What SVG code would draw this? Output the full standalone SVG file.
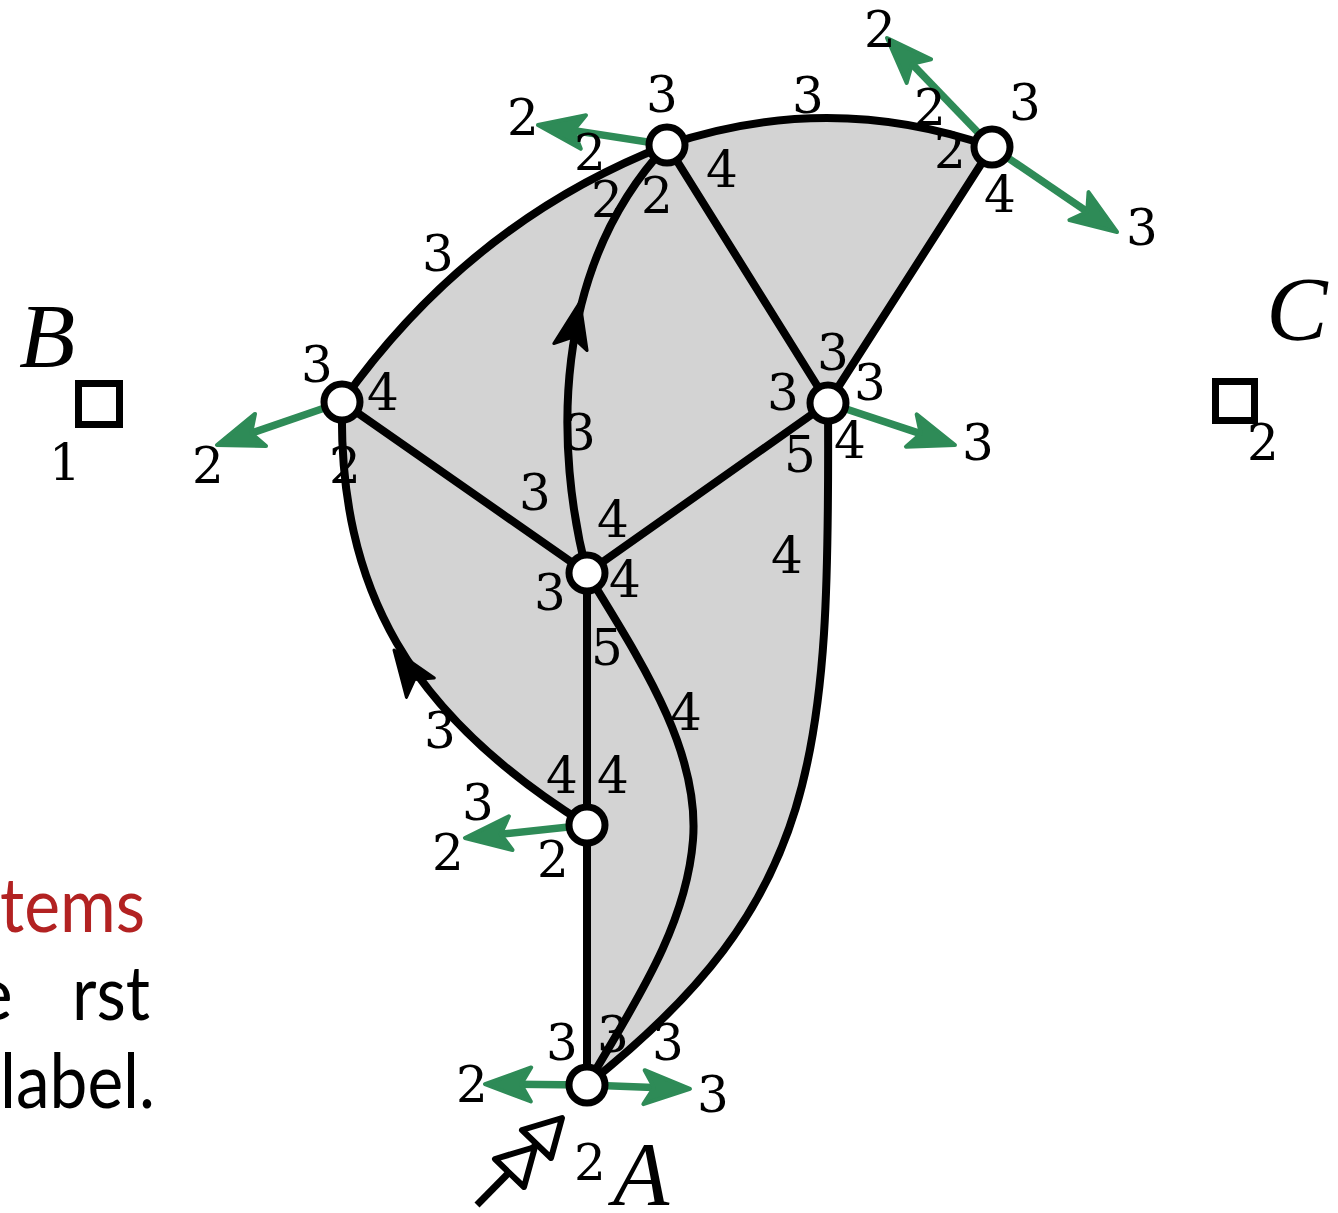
<svg xmlns="http://www.w3.org/2000/svg" width="1338" height="1213" viewBox="0 0 1338 1213">
<style>
.lbl{font-family:'DejaVu Serif',serif;font-size:50px;fill:#000;text-anchor:middle}
.big{font-family:'Liberation Serif','Times New Roman',serif;font-size:92px;font-style:italic;fill:#000;text-anchor:middle}
.edge{fill:none;stroke:#000;stroke-width:8;stroke-linecap:round}
.garr{fill:none;stroke:#2e8b57;stroke-width:7.5;marker-end:url(#gh)}
.node{fill:#fff;stroke:#000;stroke-width:7}
.side{font-family:Lato,'Open Sans',sans-serif;font-size:76px}
</style>
<defs>
<marker id="gh" markerUnits="userSpaceOnUse" markerWidth="60" markerHeight="60" refX="0" refY="0" viewBox="-20 -30 60 60" orient="auto" overflow="visible">
<path d="M30,0 L-16,-17 L-6,0 L-16,17 Z" fill="#2e8b57" stroke="#2e8b57" stroke-width="4" stroke-linejoin="round"/>
</marker>
</defs>
<rect width="1338" height="1213" fill="#fff"/>
<g id="region">
<path d="M342,402 C400,320 500,210 667,145 Q830,90 992,147 L828,403 C830,760 820,900 587,1085 L587,825 C410,715 338,590 342,402 Z" fill="#d3d3d3"/>
</g>
<g id="side-text">
<text class="side" x="0" y="932" fill="#b22222" textLength="145" lengthAdjust="spacingAndGlyphs">tems</text>
<text class="side" x="13" y="1020" fill="#000" text-anchor="end">e</text>
<text class="side" x="72" y="1020" fill="#000" textLength="78" lengthAdjust="spacingAndGlyphs">rst</text>
<text class="side" x="0" y="1108" fill="#000" textLength="155" lengthAdjust="spacingAndGlyphs">label.</text>
</g>
<g id="stubs">
<path class="garr" d="M667,145 L567.6,129.6"/>
<path class="garr" d="M992,147 L907.8,59.6"/>
<path class="garr" d="M992,147 L1092.2,215.1"/>
<path class="garr" d="M342,402 L245.4,435.2"/>
<path class="garr" d="M828,403 L926.5,435.6"/>
<path class="garr" d="M587,825 L494.8,834.8"/>
<path class="garr" d="M587,1085 L515,1084.3"/>
<path class="garr" d="M587,1085 L660,1087.8"/>
</g>
<g id="labels">
<text class="lbl" x="662" y="112">3</text>
<text class="lbl" x="523" y="135">2</text>
<text class="lbl" x="590" y="170">2</text>
<text class="lbl" x="607" y="217">2</text>
<text class="lbl" x="657" y="213">2</text>
<text class="lbl" x="722" y="187">4</text>
<text class="lbl" x="808" y="113">3</text>
<text class="lbl" x="880" y="47">2</text>
<text class="lbl" x="930" y="125">2</text>
<text class="lbl" x="1025" y="120">3</text>
<text class="lbl" x="950" y="168">2</text>
<text class="lbl" x="1000" y="212">4</text>
<text class="lbl" x="1142" y="245">3</text>
<text class="lbl" x="438" y="271">3</text>
<text class="lbl" x="65" y="480">1</text>
<text class="lbl" x="317" y="382">3</text>
<text class="lbl" x="383" y="410">4</text>
<text class="lbl" x="208" y="483">2</text>
<text class="lbl" x="345" y="483">2</text>
<text class="lbl" x="580" y="450">3</text>
<text class="lbl" x="535" y="510">3</text>
<text class="lbl" x="613" y="537">4</text>
<text class="lbl" x="833" y="370">3</text>
<text class="lbl" x="783" y="410">3</text>
<text class="lbl" x="870" y="400">3</text>
<text class="lbl" x="800" y="472">5</text>
<text class="lbl" x="850" y="458">4</text>
<text class="lbl" x="978" y="460">3</text>
<text class="lbl" x="1263" y="460">2</text>
<text class="lbl" x="550" y="610">3</text>
<text class="lbl" x="625" y="597">4</text>
<text class="lbl" x="607" y="665">5</text>
<text class="lbl" x="787" y="573">4</text>
<text class="lbl" x="686" y="730">4</text>
<text class="lbl" x="440" y="748">3</text>
<text class="lbl" x="562" y="793">4</text>
<text class="lbl" x="613" y="793">4</text>
<text class="lbl" x="478" y="820">3</text>
<text class="lbl" x="448" y="870">2</text>
<text class="lbl" x="553" y="877">2</text>
<text class="lbl" x="562" y="1060">3</text>
<text class="lbl" x="613" y="1052">3</text>
<text class="lbl" x="668" y="1060">3</text>
<text class="lbl" x="472" y="1102">2</text>
<text class="lbl" x="713" y="1112">3</text>
<text class="lbl" x="590" y="1180">2</text>
<text class="big" x="47" y="367">B</text>
<text class="big" x="1297" y="340">C</text>
<text class="big" x="641" y="1205">A</text>
</g>
<g id="connectors">
<path class="edge" d="M342,402 C400,320 500,210 667,145"/>
<path class="edge" d="M667,145 Q830,90 992,147"/>
<path class="edge" d="M992,147 L828,403"/>
<path class="edge" d="M667,145 L828,403"/>
<path class="edge" d="M342,402 L587,573"/>
<path class="edge" d="M828,403 L587,573"/>
<path class="edge" d="M587,573 C555,450 550,270 667,145"/>
<path class="edge" d="M587,573 L587,825"/>
<path class="edge" d="M587,825 L587,1085"/>
<path class="edge" d="M587,573 C640,660 700,750 693,840 C686,930 630,1010 587,1085"/>
<path class="edge" d="M828,403 C830,760 820,900 587,1085"/>
<path class="edge" d="M342,402 C338,590 410,715 587,825"/>
<path d="M0,0 L-46,-17 L-36,0 L-46,17 Z" fill="#000" stroke="#000" stroke-width="3" stroke-linejoin="round" transform="translate(580,302) rotate(-78)"/>
<path d="M0,0 L-46,-17 L-36,0 L-46,17 Z" fill="#000" stroke="#000" stroke-width="3" stroke-linejoin="round" transform="translate(394,650) rotate(-125)"/>
</g>
<g id="pointer-A">
<line x1="477" y1="1205" x2="536" y2="1145" stroke="#000" stroke-width="7"/>
<path d="M562,1118 L551,1158 L522,1130 Z" fill="#fff" stroke="#000" stroke-width="6" stroke-linejoin="round"/>
<path d="M535,1147 L524,1187 L495,1159 Z" fill="#fff" stroke="#000" stroke-width="6" stroke-linejoin="round"/>
</g>
<g id="boxB"><rect x="78.5" y="383.5" width="41" height="41" fill="none" stroke="#000" stroke-width="7"/></g>
<g id="boxC"><rect x="1215.5" y="381.5" width="39" height="39" fill="none" stroke="#000" stroke-width="7"/></g>
<g id="n1"><circle class="node" cx="667" cy="145" r="18"/></g>
<g id="n2"><circle class="node" cx="992" cy="147" r="18"/></g>
<g id="n3"><circle class="node" cx="342" cy="402" r="18"/></g>
<g id="n4"><circle class="node" cx="828" cy="403" r="18"/></g>
<g id="n5"><circle class="node" cx="587" cy="573" r="18"/></g>
<g id="n6"><circle class="node" cx="587" cy="825" r="18"/></g>
<g id="n7"><circle class="node" cx="587" cy="1085" r="18"/></g>
</svg>
